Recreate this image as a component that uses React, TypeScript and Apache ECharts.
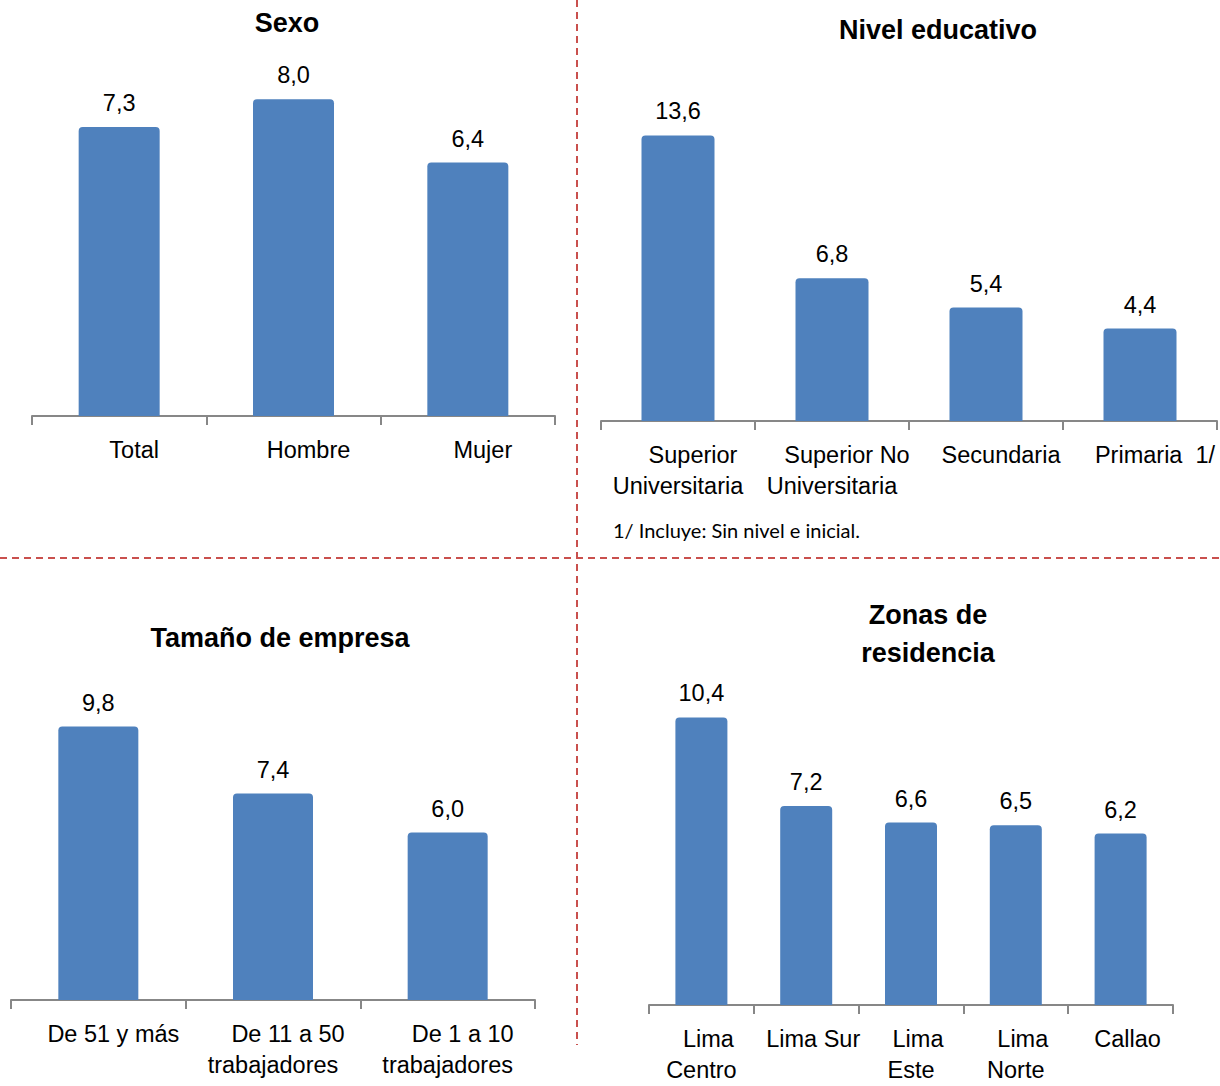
import React, { useEffect, useRef } from "react";
import * as echarts from "echarts";

const SEXO_CATS = ["Total", "Hombre", "Mujer"];
const SEXO_VALS = [7.3, 8.0, 6.4];

const NIVEL_CATS = ["Superior\nUniversitaria", "Superior No\nUniversitaria", "Secundaria", "Primaria  1/"];
const NIVEL_VALS = [13.6, 6.8, 5.4, 4.4];

const EMPRESA_CATS = ["De 51 y más", "De 11 a 50\ntrabajadores", "De 1 a 10\ntrabajadores"];
const EMPRESA_VALS = [9.8, 7.4, 6.0];

const ZONA_CATS = ["Lima\nCentro", "Lima Sur", "Lima\nEste", "Lima\nNorte", "Callao"];
const ZONA_VALS = [10.4, 7.2, 6.6, 6.5, 6.2];

const TITLES = ["Sexo", "Nivel educativo", "Tamaño de empresa", "Zonas de\nresidencia"];
const FOOTNOTE = "1/ Incluye: Sin nivel e inicial.";

const FONT = "'Liberation Sans Narrow','Arial Narrow','Liberation Sans',Arial,sans-serif";
const FS = 23.5;
const BAR_COLOR = "#4F81BD";
const AXIS_COLOR = "#878787";
const DASH_COLOR = "#C9504D";

type Panel = {
  cats: string[];
  vals: number[];
  left: number;
  width: number;
  axisY: number;
  scale: number;
  max: number;
  pad: number;
  barWidth: number;
};

const PANELS: Panel[] = [
  { cats: SEXO_CATS, vals: SEXO_VALS, left: 32, width: 523, axisY: 416, scale: 39.6, max: 9, pad: 30, barWidth: 81 },
  { cats: NIVEL_CATS, vals: NIVEL_VALS, left: 601, width: 616, axisY: 421, scale: 21.0, max: 16, pad: 30, barWidth: 73 },
  { cats: EMPRESA_CATS, vals: EMPRESA_VALS, left: 11, width: 524, axisY: 1000, scale: 27.9, max: 12, pad: 30, barWidth: 80 },
  { cats: ZONA_CATS, vals: ZONA_VALS, left: 649, width: 524, axisY: 1005, scale: 27.65, max: 12, pad: 14, barWidth: 52 },
];

export default function App() {
  const ref = useRef<HTMLDivElement>(null);
  useEffect(() => {
    if (!ref.current) return;
    const chart = echarts.init(ref.current, null, { renderer: "svg" });

    const grid = PANELS.map((p) => {
      const h = p.max * p.scale;
      return { left: p.left, width: p.width, top: p.axisY - h, height: h, containLabel: false };
    });
    const xAxis = PANELS.map((p, i) => ({
      type: "category",
      gridIndex: i,
      data: p.cats,
      axisLine: { show: true, lineStyle: { color: AXIS_COLOR, width: 2 } },
      axisTick: { show: true, length: 9, lineStyle: { color: AXIS_COLOR, width: 2 } },
      axisLabel: {
        interval: 0,
        margin: 18,
        color: "#000",
        fontFamily: FONT,
        fontSize: FS,
        lineHeight: 31,
        formatter: (v: string) =>
          v
            .split("\n")
            .map((l, j) => (j === 0 ? `{a|${l}}` : `{b|${l}}`))
            .join("\n"),
        rich: {
          a: { fontFamily: FONT, fontSize: FS, lineHeight: 31, color: "#000", padding: [0, 0, 0, p.pad] },
          b: { fontFamily: FONT, fontSize: FS, lineHeight: 31, color: "#000" },
        },
      },
      splitLine: { show: false },
    }));
    const yAxis = PANELS.map((p, i) => ({
      type: "value",
      gridIndex: i,
      min: 0,
      max: p.max,
      show: false,
      splitLine: { show: false },
    }));
    const series = PANELS.map((p, i) => ({
      type: "bar",
      xAxisIndex: i,
      yAxisIndex: i,
      data: p.vals,
      barWidth: p.barWidth,
      itemStyle: { color: BAR_COLOR, borderRadius: [4, 4, 0, 0] },
      label: {
        show: true,
        position: "top",
        distance: 12,
        color: "#000",
        fontFamily: FONT,
        fontSize: FS,
        formatter: (d: any) => Number(d.value).toFixed(1).replace(".", ","),
      },
    }));

    const titleStyle = { fontFamily: FONT, fontSize: 27, fontWeight: "bold", fill: "#000", align: "center", verticalAlign: "middle" };
    const graphic: any[] = [
      { type: "text", x: 287, y: 23, style: { ...titleStyle, text: TITLES[0] } },
      { type: "text", x: 938, y: 30, style: { ...titleStyle, text: TITLES[1] } },
      { type: "text", x: 280, y: 638, style: { ...titleStyle, text: TITLES[2] } },
      { type: "text", x: 928, y: 634, style: { ...titleStyle, text: TITLES[3], lineHeight: 38 } },
      {
        type: "text",
        x: 613,
        y: 530,
        style: { text: FOOTNOTE, fontFamily: "Lato, 'Open Sans', sans-serif", fontSize: 20, fill: "#000", align: "left", verticalAlign: "middle" },
      },
      {
        type: "line",
        shape: { x1: 577, y1: 0, x2: 577, y2: 1045 },
        style: { stroke: DASH_COLOR, lineWidth: 2, lineDash: [7, 5] },
      },
      {
        type: "line",
        shape: { x1: 0, y1: 558, x2: 1220, y2: 558 },
        style: { stroke: DASH_COLOR, lineWidth: 2, lineDash: [7, 5] },
      },
    ];

    chart.setOption({
      animation: false,
      backgroundColor: "#fff",
      grid,
      xAxis,
      yAxis,
      series,
      graphic,
    });
    return () => chart.dispose();
  }, []);

  return (
    <div
      ref={ref}
      style={{ position: "fixed", left: 0, top: 0, width: 1220, height: 1086, background: "#fff" }}
    />
  );
}
